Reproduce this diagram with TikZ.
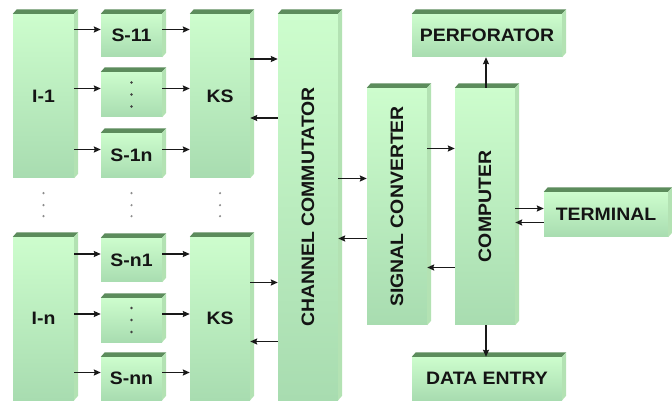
\documentclass[tikz,border=0pt]{standalone}
\usepackage{fontspec}
\setmainfont{Liberation Sans}[FakeStretch=1.08]
\usetikzlibrary{arrows.meta}
\definecolor{frtop}{HTML}{CDFDCD}
\definecolor{frbot}{HTML}{A8DCB0}
\definecolor{topface}{HTML}{5C8C5C}
\definecolor{sideface}{HTML}{B3E2B3}
\definecolor{txt}{HTML}{141414}
\tikzset{
  box/.style={rectangle, inner sep=0pt, top color=frtop, bottom color=frbot, draw=none,
    font=\fontsize{18}{20}\selectfont\bfseries, text=txt},
  arr/.style={draw=black!90, line width=1.7pt, -{Stealth[length=7pt,width=6pt,inset=1pt]}},
  dot/.style={fill=black!75, draw=none},
  sdot/.style={fill=black!45, draw=none},
}
\newcommand\bx[6]{%
  \node[box, minimum width={(#4-#2)*1pt}, minimum height={(#5-#3)*1pt}] (#1) at ({(#2+#4)/2},{(#3+#5)/2}) {#6};
  \fill[topface] (#1.north west) -- ([shift={(4pt,4.5pt)}]#1.north west) -- ([shift={(4pt,4.5pt)}]#1.north east) -- (#1.north east) -- cycle;
  \fill[sideface] (#1.north east) -- ([shift={(4pt,4.5pt)}]#1.north east) -- ([shift={(4pt,4.5pt)}]#1.south east) -- (#1.south east) -- cycle;
}
\begin{document}
\begin{tikzpicture}[x=1pt,y=-1pt]
\useasboundingbox (0,0) rectangle (672,403);
% left column blocks
\bx{I1}{13}{14}{74}{178}{I-1}
\bx{S11}{101}{14}{162}{57}{S-11}
\bx{S1m}{101}{72}{162}{117}{}
\bx{S1n}{101}{133}{162}{178}{S-1n}
\bx{KS1}{190}{14}{250}{178}{KS}
\bx{In}{13}{237}{74}{400}{I-n}
\bx{Sn1}{101}{238}{162}{282}{S-n1}
\bx{Snm}{101}{298}{162}{342}{}
\bx{Snn}{101}{357}{162}{400}{S-nn}
\bx{KSn}{190}{237}{250}{400}{KS}
% right part
\bx{CC}{278}{14}{338}{400}{\rotatebox{90}{CHANNEL COMMUTATOR}}
\bx{SC}{367}{88}{427}{325}{\rotatebox{90}{SIGNAL CONVERTER}}
\bx{COMP}{455}{88}{515}{325}{\rotatebox{90}{COMPUTER}}
\bx{PERF}{412}{14}{562}{57}{PERFORATOR}
\bx{DATA}{412}{357}{562}{400}{DATA ENTRY}
\bx{TERM}{544}{192}{668}{237}{TERMINAL}
% dots in middle boxes
\foreach \b in {S1m,Snm}{
  \foreach \d in {-12,0,12}{
    \fill[dot] ([yshift=\d pt]\b.center) circle (1.4pt);
  }
}
% dots between rows
\foreach \b in {I1,S1n,KS1}{
  \foreach \d in {15,27,38}{
    \fill[sdot] ([yshift=-\d pt]\b.south) circle (1.2pt);
  }
}
% arrows I -> S -> KS
\foreach \i/\s/\k in {I1/S11/KS1, I1/S1m/KS1, I1/S1n/KS1, In/Sn1/KSn, In/Snm/KSn, In/Snn/KSn}{
  \draw[arr] ([yshift=6pt]\i.east |- \s.west) -- ([yshift=6pt]\s.west);
  \draw[arr] ([yshift=6pt]\s.east) -- ([yshift=6pt]\k.west |- \s.east);
}
% KS <-> CC
\draw[arr] ([yshift=37pt]KS1.east) -- ([yshift=37pt]CC.west |- KS1.east);
\draw[arr] ([yshift=-22pt]CC.west |- KS1.east) -- ([yshift=-22pt]KS1.east);
\draw[arr] ([yshift=36pt]KSn.east) -- ([yshift=36pt]CC.west |- KSn.east);
\draw[arr] ([yshift=-23pt]CC.west |- KSn.east) -- ([yshift=-23pt]KSn.east);
% CC <-> SC
\draw[arr] ([yshift=28pt]CC.east |- SC.west) -- ([yshift=28pt]SC.west);
\draw[arr] ([yshift=-32pt]SC.west) -- ([yshift=-32pt]CC.east |- SC.west);
% SC <-> COMP
\draw[arr] ([yshift=58pt]SC.east) -- ([yshift=58pt]COMP.west);
\draw[arr] ([yshift=-61pt]COMP.west) -- ([yshift=-61pt]SC.east);
% COMP -> PERF, DATA
\draw[arr] ([xshift=1pt]COMP.north) -- ([xshift=1pt]COMP.north |- PERF.south);
\draw[arr] ([xshift=1pt]COMP.south) -- ([xshift=1pt]COMP.south |- DATA.north);
% COMP <-> TERM
\draw[arr] ([yshift=6pt]COMP.east |- TERM.west) -- ([yshift=6pt]TERM.west);
\draw[arr] ([yshift=-8pt]TERM.west) -- ([yshift=-8pt]COMP.east |- TERM.west);
\end{tikzpicture}
\end{document}
